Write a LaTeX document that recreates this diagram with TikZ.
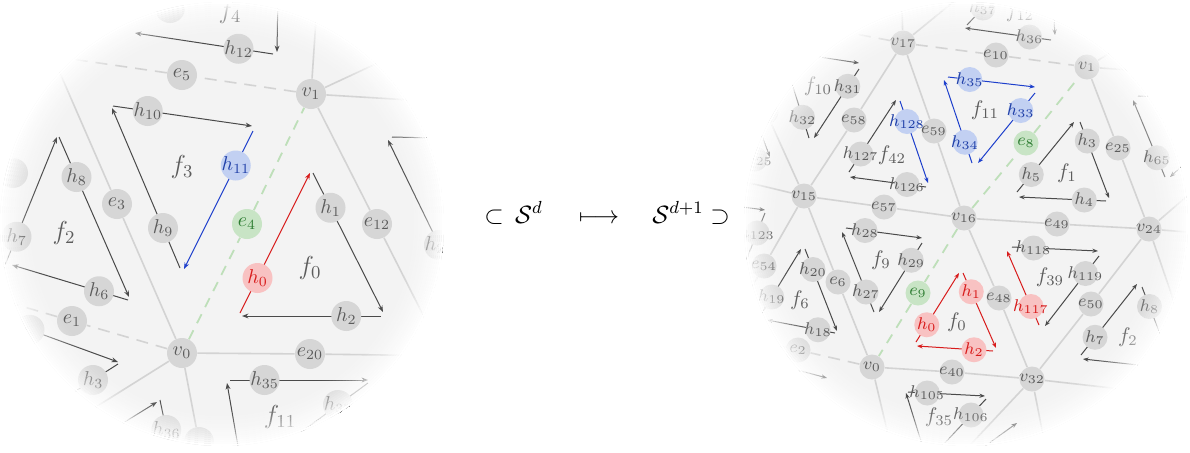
\documentclass[tikz,border=0pt]{standalone}
\usepackage{fix-cm}
\usepackage{amsmath,amssymb}
\usetikzlibrary{arrows.meta}

\definecolor{diskgray}{HTML}{F3F3F3}
\definecolor{meshgray}{HTML}{D3D3D3}
\definecolor{nodegray}{HTML}{D6D6D6}
\definecolor{labgray}{HTML}{5C5C5C}
\definecolor{arrowgray}{HTML}{4A4A4A}
\definecolor{hred}{HTML}{D81B1B}
\definecolor{redfill}{HTML}{F8C2C2}
\definecolor{hblue}{HTML}{1D3FCC}
\definecolor{hbluetext}{HTML}{1F3FA8}
\definecolor{bluefill}{HTML}{C2D0F2}
\definecolor{greenfill}{HTML}{C8E4C5}
\definecolor{greentext}{HTML}{2E7D32}
\definecolor{dashgreen}{HTML}{BEDFB9}

% label that does not widen its circle
\newcommand{\zl}[1]{\makebox[0pt]{#1}}
% half-edge: style, name, from, to, label
\newcommand{\hedge}[5][]{%
  \coordinate (#2s) at #3;
  \coordinate (#2t) at #4;
  \draw[he,#1] (#2s) -- node[nd,pos=.25] (#2) {\zl{#5}} (#2t);}
% half-edge whose label is out of view
\newcommand{\hstub}[3]{%
  \coordinate (#1s) at #2;
  \coordinate (#1t) at #3;
  \draw[he] (#1s) -- (#1t);}
% white rim that eats the edge of a lens
\newcommand{\rim}[1]{%
  \foreach \k in {1,...,22}{%
    \pgfmathsetmacro\op{min(1,(\k/21)^2)}
    \pgfmathsetmacro\rr{89.5+\k}
    \draw[white,line width=1.02pt,opacity=\op] #1 circle[radius=\rr pt];}}

\begin{document}
\begin{tikzpicture}[x=0.5pt,y=-0.5pt,
  mesh/.style={draw=meshgray,line width=0.8pt},
  greydash/.style={mesh,dash pattern=on 6pt off 4pt},
  greendash/.style={draw=dashgreen,line width=0.9pt,dash pattern=on 5pt off 4pt},
  nd/.style={circle,fill=nodegray,text=labgray,inner sep=0pt},
  grn/.style={fill=greenfill,text=greentext},
  he/.style={draw=arrowgray,line width=0.5pt,-{Stealth[length=3.2pt,width=2.4pt]}},
  hot/.style={draw=hred,nd/.append style={fill=redfill,text=hred}},
  cold/.style={draw=hblue,nd/.append style={fill=bluefill,text=hbluetext}},
  face/.style={text=labgray,inner sep=0pt}]
\useasboundingbox (0,0) rectangle (1190,452);

%% left lens
\begin{scope}[nd/.append style={minimum size=15pt,font=\fontsize{10}{12}\selectfont},
              face/.append style={font=\fontsize{13}{15}\selectfont}]
\clip (222,224) circle (111pt);
\fill[diskgray] (222,224) circle (111pt);

\node[nd] (Lv0) at (182,353) {\zl{$v_0$}};
\node[nd] (Lv1) at (311,94) {\zl{$v_1$}};
\node[nd,grn] (Le4) at (247,224) {\zl{$e_4$}};
\node[nd] (Le5) at (182,75) {\zl{$e_5$}};
\node[nd] (Le3) at (117,204) {\zl{$e_3$}};
\node[nd] (Le1) at (72,321) {\zl{$e_1$}};
\node[nd] (Le12) at (377,224) {\zl{$e_{12}$}};
\node[nd] (Le20) at (310,354) {\zl{$e_{20}$}};
\node[nd] (Ln1) at (13,173) {};
\node[nd] (Ln2) at (199,442) {};
\node[nd] (Ln3) at (170,8) {};

\coordinate (Lx1) at (26,-5);
\coordinate (Lx2) at (-20,294);
\coordinate (Lx3) at (30,53);
\coordinate (Lx4) at (450,368);
\coordinate (Lx5) at (460,356);
\coordinate (Lx6) at (318,-10);
\coordinate (Lx7) at (440,34);
\coordinate (Lx8) at (460,103);
\coordinate (Lx9) at (0,467);
\coordinate (Lx10) at (202,470);

\draw[mesh] (Lv0) -- (Le3) -- (Lx1);
\draw[greydash] (Lv0) -- (Le1) -- (Lx2);
\draw[greydash] (Lv1) -- (Le5) -- (Lx3);
\draw[mesh] (Lv1) -- (Le12) -- (Lx4);
\draw[mesh] (Lv0) -- (Le20) -- (Lx5);
\draw[mesh] (Lv1) -- (Lx6);
\draw[mesh] (Lv1) -- (Lx7);
\draw[mesh] (Lv1) -- (Lx8);
\draw[mesh] (Lv0) -- (Lx9);
\draw[mesh] (Lv0) -- (Ln2) -- (Lx10);
\draw[greendash] (Lv0) -- (Le4) -- (Lv1);

% f0
\hedge[hot]{Lh0}{(240,313)}{(310,173)}{$h_0$}
\hedge{Lh1}{(313,173)}{(383,312)}{$h_1$}
\hedge{Lh2}{(381,316)}{(242,316)}{$h_2$}
% f3
\hedge[cold]{Lh11}{(253,131)}{(184,269)}{$h_{11}$}
\hedge{Lh9}{(180,268)}{(112,108)}{$h_9$}
\hedge{Lh10}{(113,106)}{(252,126)}{$h_{10}$}
% f2
\hedge{Lh8}{(59,137)}{(129,297)}{$h_8$}
\hedge{Lh6}{(128,300)}{(12,265)}{$h_6$}
\hedge{Lh7}{(3,270)}{(57,137)}{$h_7$}
% around the rim
\hedge{Lh12}{(273,54)}{(135,33)}{$h_{12}$}
\hedge{Lh22}{(456,280)}{(388,140)}{$h_{22}$}
\hedge{Lh35}{(230,380)}{(368,380)}{$h_{35}$}
\hedge{Lh33}{(368,383)}{(248,471)}{$h_{33}$}
\hedge{Lh3}{(118,364)}{(18,428)}{$h_3$}
\hedge{Lh36}{(160,400)}{(185,520)}{$h_{36}$}
\hedge{Lhx}{(0,319)}{(118,362)}{}
\hstub{La1}{(278,-10)}{(277,52)}
\hstub{La2}{(392,137)}{(480,139)}
\hstub{La3}{(243,475)}{(227,383)}
\hstub{La4}{(60,462)}{(157,402)}

\node[face] (Lf0) at (310,268) {$f_0$};
\node[face] (Lf3) at (182,167) {$f_3$};
\node[face] (Lf2) at (64,233) {$f_2$};
\node[face] (Lf11) at (280,417) {$f_{11}$};
\node[face] (Lf4) at (230,12) {$f_4$};

\rim{(222,224)}
\end{scope}

%% the map between the two
\begin{scope}[every node/.style={anchor=base,inner sep=0pt,font=\fontsize{12.5}{15}\selectfont}]
\node (sub) at (494,223) {$\subset$};
\node (Sd) at (529,223) {$\mathcal{S}^d$};
\node (mapsto) at (599,223) {$\longmapsto$};
\node (Sd1) at (678,223) {$\mathcal{S}^{d+1}$};
\node (sup) at (720,223) {$\supset$};
\end{scope}

%% right lens
\begin{scope}[nd/.append style={minimum size=12.5pt,font=\fontsize{8.5}{10}\selectfont},
              face/.append style={font=\fontsize{10.5}{12}\selectfont},
              he/.append style={-{Stealth[length=2.8pt,width=2.1pt]}}]
\clip (966,224) circle (111pt);
\fill[diskgray] (966,224) circle (111pt);

\node[nd] (Rv17) at (903,43) {\zl{$v_{17}$}};
\node[nd] (Rv1) at (1087,67) {\zl{$v_1$}};
\node[nd] (Rv15) at (804,196) {\zl{$v_{15}$}};
\node[nd] (Rv16) at (964,218) {\zl{$v_{16}$}};
\node[nd] (Rv24) at (1149,229) {\zl{$v_{24}$}};
\node[nd] (Rv0) at (872,367) {\zl{$v_0$}};
\node[nd] (Rv32) at (1032,379) {\zl{$v_{32}$}};
\node[nd] (Re10) at (996,55) {\zl{$e_{10}$}};
\node[nd] (Re58) at (854,120) {\zl{$e_{58}$}};
\node[nd] (Re59) at (934,131) {\zl{$e_{59}$}};
\node[nd,grn] (Re8) at (1026,143) {\zl{$e_8$}};
\node[nd] (Re25) at (1118,148) {\zl{$e_{25}$}};
\node[nd] (Re57) at (884,207) {\zl{$e_{57}$}};
\node[nd] (Re49) at (1057,224) {\zl{$e_{49}$}};
\node[nd] (Re54) at (764,266) {\zl{$e_{54}$}};
\node[nd] (Re6) at (838,282) {\zl{$e_6$}};
\node[nd,grn] (Re9) at (918,293) {\zl{$e_9$}};
\node[nd] (Re48) at (999,298) {\zl{$e_{48}$}};
\node[nd] (Re50) at (1091,304) {\zl{$e_{50}$}};
\node[nd] (Re2) at (798,350) {\zl{$e_2$}};
\node[nd] (Re40) at (952,372) {\zl{$e_{40}$}};
\node[nd] (Rn1) at (766,112) {};

\coordinate (Rx1) at (724,335);
\coordinate (Rx2) at (901,-20);
\coordinate (Rx3) at (974,-15);
\coordinate (Rx4) at (720,8);
\coordinate (Rx5) at (1200,-2);
\coordinate (Rx6) at (1200,75);
\coordinate (Rx7) at (700,171);
\coordinate (Rx8) at (745,66);
\coordinate (Rx9) at (1200,233);
\coordinate (Rx10) at (1200,185);
\coordinate (Rx11) at (1180,319);
\coordinate (Rx12) at (1200,398);
\coordinate (Rx13) at (1048,460);
\coordinate (Rx14) at (942,475);
\coordinate (Rx15) at (896,468);

\draw[mesh] (Rv15) -- (Re58) -- (Rv17);
\draw[mesh] (Rv17) -- (Re59) -- (Rv16);
\draw[greydash] (Rv17) -- (Re10) -- (Rv1);
\draw[greendash] (Rv16) -- (Re8) -- (Rv1);
\draw[mesh] (Rv1) -- (Re25) -- (Rv24);
\draw[mesh] (Rv15) -- (Re57) -- (Rv16);
\draw[mesh] (Rv16) -- (Re49) -- (Rv24);
\draw[mesh] (Rv15) -- (Re54) -- (Rx1);
\draw[mesh] (Rv15) -- (Re6) -- (Rv0);
\draw[greendash] (Rv16) -- (Re9) -- (Rv0);
\draw[mesh] (Rv16) -- (Re48) -- (Rv32);
\draw[mesh] (Rv24) -- (Re50) -- (Rv32);
\draw[greydash] (Rv0) -- (Re2) -- (Rx1);
\draw[mesh] (Rv0) -- (Re40) -- (Rv32);
\draw[mesh] (Rv17) -- (Rx2);
\draw[mesh] (Rv17) -- (Rx3);
\draw[greydash] (Rv17) -- (Rx4);
\draw[mesh] (Rv1) -- (Rx5);
\draw[mesh] (Rv1) -- (Rx6);
\draw[mesh] (Rv15) -- (Rx7);
\draw[mesh] (Rv15) -- (Rn1) -- (Rx8);
\draw[mesh] (Rv24) -- (Rx9);
\draw[mesh] (Rv24) -- (Rx10);
\draw[mesh] (Rv24) -- (Rx11);
\draw[mesh] (Rv32) -- (Rx12);
\draw[mesh] (Rv32) -- (Rx13);
\draw[mesh] (Rv32) -- (Rx14);
\draw[mesh] (Rv0) -- (Rx15);

% f0
\hedge[hot]{Rh0}{(916,342)}{(959,273)}{$h_0$}
\hedge[hot]{Rh1}{(963,273)}{(996,348)}{$h_1$}
\hedge[hot]{Rh2}{(993,351)}{(917,346)}{$h_2$}
% f11
\hedge[cold]{Rh35}{(948,77)}{(1035,87)}{$h_{35}$}
\hedge[cold]{Rh33}{(1035,93)}{(978,163)}{$h_{33}$}
\hedge[cold]{Rh34}{(972,163)}{(944,80)}{$h_{34}$}
% f42
\hedge[cold]{Rh128}{(900,101)}{(928,183)}{$h_{128}$}
\hedge{Rh126}{(926,187)}{(850,177)}{$h_{126}$}
\hedge{Rh127}{(849,172)}{(896,100)}{$h_{127}$}
% f1
\hedge{Rh3}{(1080,122)}{(1109,198)}{$h_3$}
\hedge{Rh4}{(1106,201)}{(1019,197)}{$h_4$}
\hedge{Rh5}{(1017,192)}{(1074,122)}{$h_5$}
% f39
\hedge[hot]{Rh117}{(1039,325)}{(1007,251)}{$h_{117}$}
\hedge{Rh118}{(1012,247)}{(1098,251)}{$h_{118}$}
\hedge{Rh119}{(1099,256)}{(1045,326)}{$h_{119}$}
% f9
\hedge{Rh28}{(846,228)}{(922,238)}{$h_{28}$}
\hedge{Rh29}{(922,243)}{(879,312)}{$h_{29}$}
\hedge{Rh27}{(874,312)}{(842,232)}{$h_{27}$}
% f6
\hedge{Rh20}{(805,249)}{(837,331)}{$h_{20}$}
\hedge{Rh18}{(835,333)}{(767,320)}{$h_{18}$}
\hedge{Rh19}{(762,313)}{(801,249)}{$h_{19}$}
% f2
\hedge{Rh7}{(1081,355)}{(1137,284)}{$h_7$}
\hedge{Rh8}{(1142,287)}{(1172,365)}{$h_8$}
\hstub{Ra1}{(1175,369)}{(1083,359)}
% f10
\hedge{Rh31}{(859,69)}{(814,138)}{$h_{31}$}
\hedge{Rh32}{(809,138)}{(783,55)}{$h_{32}$}
\hstub{Ra2}{(760,48)}{(859,63)}
% f12
\hedge{Rh36}{(1051,40)}{(965,28)}{$h_{36}$}
\hedge{Rh37}{(967,25)}{(1031,-43)}{$h_{37}$}
\hstub{Ra3}{(1050,-40)}{(1055,35)}
% f35
\hedge{Rh105}{(908,392)}{(985,396)}{$h_{105}$}
\hedge{Rh106}{(986,399)}{(926,463)}{$h_{106}$}
\hstub{Ra4}{(930,470)}{(906,393)}
% near the rim
\hedge{Rh65}{(1165,177)}{(1133,100)}{$h_{65}$}
\hstub{Ra5}{(1138,96)}{(1230,100)}
\hstub{Ra6}{(1215,136)}{(1170,177)}
\hedge{Rh123}{(765,213)}{(733,293)}{$h_{123}$}
\hstub{Ra7}{(690,200)}{(765,210)}
\hedge{Rh125}{(768,161)}{(716,153)}{$h_{125}$}
\hstub{Ra8}{(752,110)}{(770,157)}
\hstub{Ra9}{(760,360)}{(827,378)}
\hstub{Ra10}{(985,446)}{(1017,423)}

\node[face] (Rf10) at (818,86) {$f_{10}$};
\node[face] (Rf11) at (985,110) {$f_{11}$};
\node[face] (Rf42) at (892,155) {$f_{42}$};
\node[face] (Rf1) at (1067,173) {$f_1$};
\node[face] (Rf9) at (881,260) {$f_9$};
\node[face] (Rf6) at (800,300) {$f_6$};
\node[face] (Rf0) at (957,322) {$f_0$};
\node[face] (Rf39) at (1050,277) {$f_{39}$};
\node[face] (Rf2) at (1128,337) {$f_2$};
\node[face] (Rf35) at (939,417) {$f_{35}$};
\node[face] (Rf12) at (1020,12) {$f_{12}$};

\rim{(966,224)}
\end{scope}
\end{tikzpicture}
\end{document}
